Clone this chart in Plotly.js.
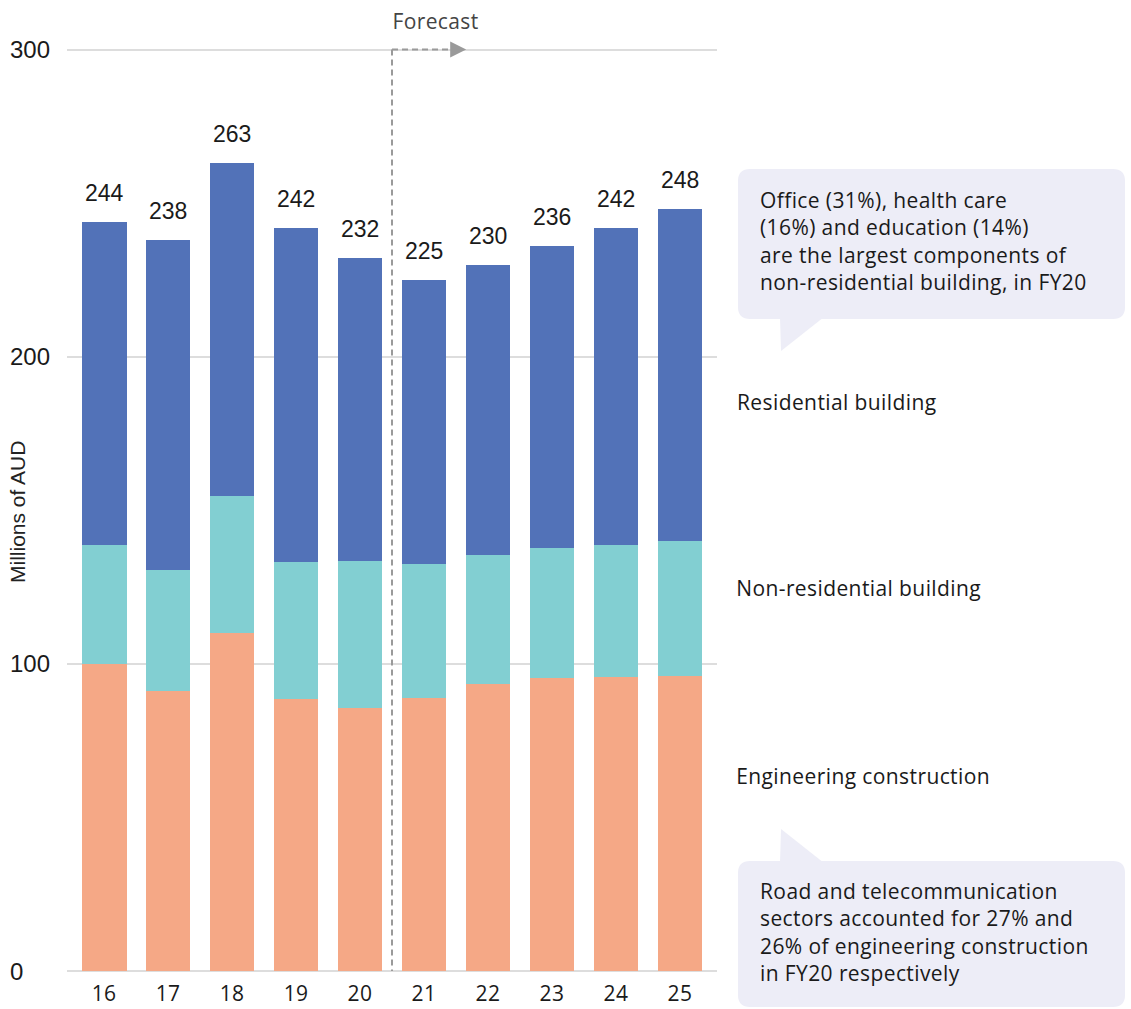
<!DOCTYPE html>
<html>
<head>
<meta charset="utf-8">
<script src="https://cdn.plot.ly/plotly-3.0.1.min.js"></script>
<style>
html,body{margin:0;padding:0;background:#fff;}
#chart{width:1131px;height:1009px;}
#chart text[style*="Open Sans"]{letter-spacing:0.4px;}
</style>
</head>
<body>
<div id="chart"></div>
<script>
const years = ['16', '17', '18', '19', '20', '21', '22', '23', '24', '25'];
const engineering = [100, 91, 110, 88.5, 85.6, 89, 93.5, 95.5, 95.7, 96.1];
const nonResidential = [38.8, 39.6, 44.5, 44.7, 48, 43.6, 42, 42.3, 43.1, 44];
const residential = [105.2, 107.4, 108.5, 108.8, 98.4, 92.4, 94.5, 98.2, 103.2, 107.9];
const totals = [244, 238, 263, 242, 232, 225, 230, 236, 242, 248];
const yTicks = [0, 100, 200, 300];
const seriesNames = ['Engineering construction', 'Non-residential building', 'Residential building'];
const note1 = 'Office (31%), health care<br>(16%) and education (14%)<br>are the largest components of<br>non-residential building, in FY20';
const note2 = 'Road and telecommunication<br>sectors accounted for 27% and<br>26% of engineering construction<br>in FY20 respectively';

const TFONT = '"Open Sans", "Noto Sans", sans-serif';
const NFONT = '"Liberation Sans", Arial, sans-serif';
const INK = '#1a1a1a';
const W = 1131, H = 1009;
const L = 67, R = 717, T = 46, B = 971;
const Y300 = 49.5;
const yTop = 300 + (Y300 - T) * 300 / (B - Y300);
const px = x => (x - L) / (R - L);
const py = y => (B - y) / (B - T);

function roundRect(x0, y0, x1, y1, r) {
  const p = (x, y) => px(x) + ',' + py(y);
  return 'M' + p(x0 + r, y0) + ' L' + p(x1 - r, y0) + ' Q' + p(x1, y0) + ' ' + p(x1, y0 + r) +
    ' L' + p(x1, y1 - r) + ' Q' + p(x1, y1) + ' ' + p(x1 - r, y1) +
    ' L' + p(x0 + r, y1) + ' Q' + p(x0, y1) + ' ' + p(x0, y1 - r) +
    ' L' + p(x0, y0 + r) + ' Q' + p(x0, y0) + ' ' + p(x0 + r, y0) + ' Z';
}
function tri(a, b, c) {
  return 'M' + px(a[0]) + ',' + py(a[1]) + ' L' + px(b[0]) + ',' + py(b[1]) + ' L' + px(c[0]) + ',' + py(c[1]) + ' Z';
}

const colors = ['#F5A886', '#82CFD2', '#5272B8'];
const series = [engineering, nonResidential, residential];
const traces = series.map((vals, i) => ({
  type: 'bar', x: years, y: vals, name: seriesNames[i],
  marker: { color: colors[i], line: { width: 0 } },
  hoverinfo: 'name+y'
}));

const BOX = '#EDEDF7';
const shapes = [
  { type: 'path', xref: 'paper', yref: 'paper', path: roundRect(738, 169, 1125, 319, 12), fillcolor: BOX, line: { width: 0 }, layer: 'below' },
  { type: 'path', xref: 'paper', yref: 'paper', path: tri([780, 317], [781, 351], [824, 317]), fillcolor: BOX, line: { width: 0 }, layer: 'below' },
  { type: 'path', xref: 'paper', yref: 'paper', path: roundRect(738, 861, 1125, 1007, 12), fillcolor: BOX, line: { width: 0 }, layer: 'below' },
  { type: 'path', xref: 'paper', yref: 'paper', path: tri([780, 863], [781, 829], [824, 863]), fillcolor: BOX, line: { width: 0 }, layer: 'below' },
  { type: 'line', xref: 'x', yref: 'y', x0: 4.5, x1: 4.5, y0: -1.5, y1: 300, line: { color: '#9a9a9a', width: 2, dash: '6px,4px' }, layer: 'above' },
  { type: 'line', xref: 'x', yref: 'y', x0: 4.5, x1: 5.5, y0: 300, y1: 300, line: { color: '#9a9a9a', width: 2, dash: '6px,4px' }, layer: 'above' }
];

const annotations = [];
years.forEach((yr, i) => {
  annotations.push({ x: i, y: totals[i], xref: 'x', yref: 'y', text: String(totals[i]), showarrow: false,
    yanchor: 'bottom', yshift: 14, font: { family: NFONT, size: 23, color: INK } });
});
yTicks.forEach(v => {
  annotations.push({ x: px(8), xref: 'paper', y: v, yref: 'y', text: String(v), showarrow: false,
    xanchor: 'left', yanchor: 'middle', font: { family: NFONT, size: 24, color: INK } });
});
annotations.push({ x: px(18), xref: 'paper', y: py(512), yref: 'paper', text: 'Millions of AUD', textangle: -90,
  showarrow: false, xanchor: 'center', yanchor: 'middle', font: { family: NFONT, size: 21, color: '#222' } });
annotations.push({ x: px(435), xref: 'paper', y: py(21), yref: 'paper', text: 'Forecast', showarrow: false,
  xanchor: 'center', yanchor: 'middle', font: { family: TFONT, size: 21, color: '#444' } });
annotations.push({ x: 5.66, xref: 'x', y: 300, yref: 'y', ax: -12, ay: 0, text: '', showarrow: true,
  arrowhead: 2, arrowsize: 1.6, arrowwidth: 2, arrowcolor: '#9a9a9a' });
const labelY = [776, 588, 402];
seriesNames.forEach((n, i) => {
  annotations.push({ x: px(739), xref: 'paper', y: py(labelY[i]), yref: 'paper', text: n, showarrow: false,
    xanchor: 'left', yanchor: 'middle', font: { family: TFONT, size: 21, color: INK } });
});
annotations.push({ x: px(758), xref: 'paper', y: py(184), yref: 'paper', text: note1, showarrow: false, align: 'left',
  xanchor: 'left', yanchor: 'top', font: { family: TFONT, size: 21, color: INK } });
annotations.push({ x: px(758), xref: 'paper', y: py(875), yref: 'paper', text: note2, showarrow: false, align: 'left',
  xanchor: 'left', yanchor: 'top', font: { family: TFONT, size: 21, color: INK } });

const layout = {
  width: W, height: H,
  margin: { l: L, r: W - R, t: T, b: H - B },
  barmode: 'stack', bargap: 0.30,
  showlegend: false,
  paper_bgcolor: '#fff', plot_bgcolor: '#fff',
  font: { family: TFONT, color: INK },
  xaxis: { type: 'category', range: [-0.58, 9.58], showgrid: false, zeroline: false, showline: false,
    ticks: '', ticklabelstandoff: 8, tickfont: { family: TFONT, size: 21, color: INK }, fixedrange: true },
  yaxis: { range: [0, yTop], tickvals: yTicks, showticklabels: false, showgrid: true, gridcolor: '#DDDDDD', gridwidth: 2,
    zeroline: true, zerolinecolor: '#DDDDDD', zerolinewidth: 2, showline: false, ticks: '', fixedrange: true },
  shapes: shapes,
  annotations: annotations
};

Plotly.newPlot('chart', traces, layout, { displayModeBar: false, staticPlot: true });
</script>
</body>
</html>
